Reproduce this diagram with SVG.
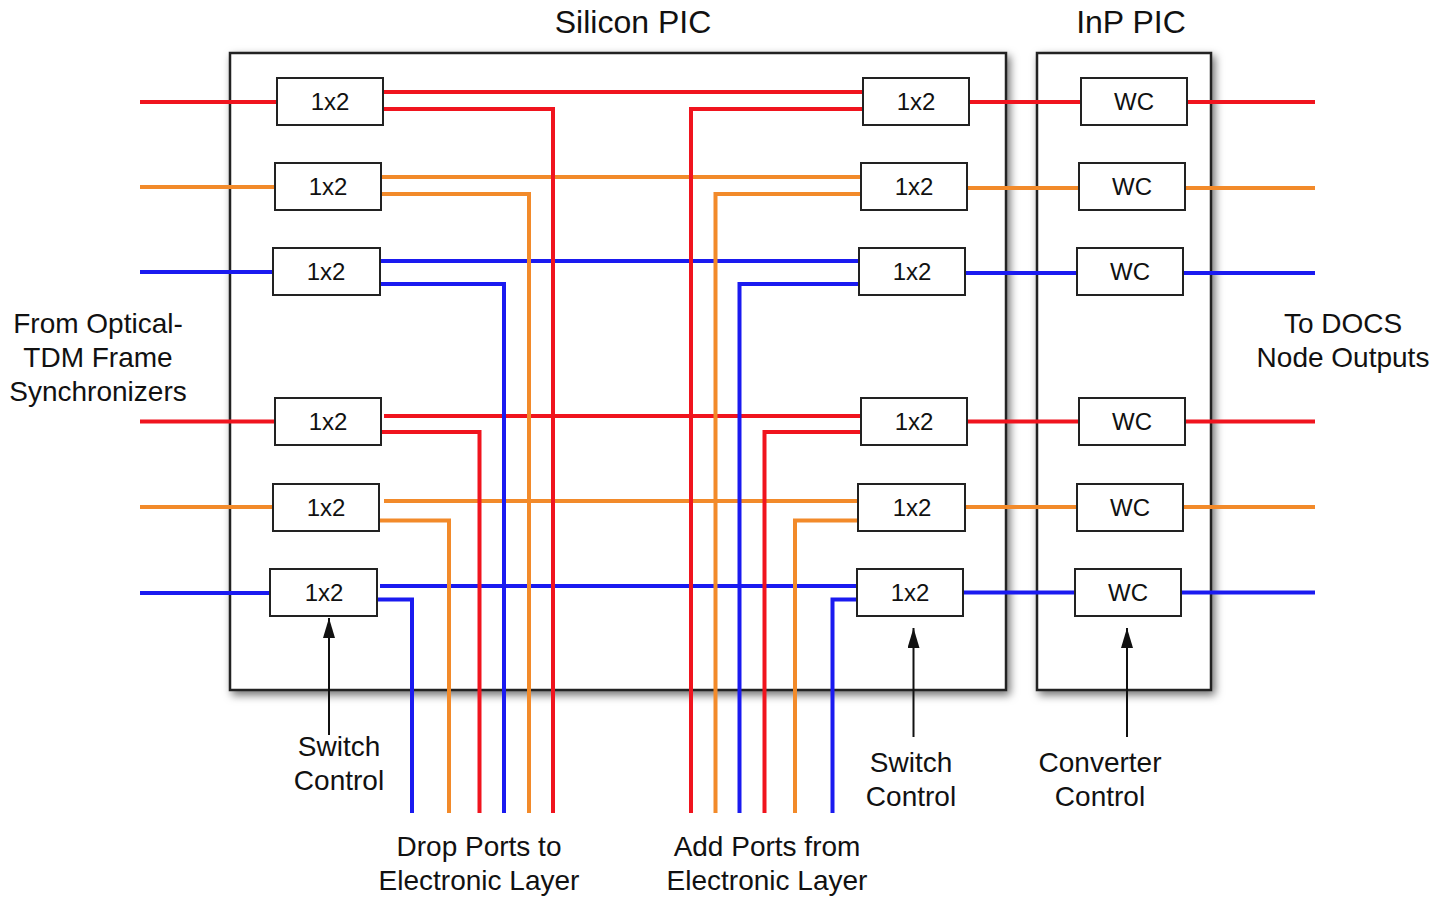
<svg xmlns="http://www.w3.org/2000/svg" width="1442" height="898" viewBox="0 0 1442 898">
<style>
.pic{fill:#fff;stroke:#222;stroke-width:2.5}
.box{fill:#fff;stroke:#222;stroke-width:2}
.bt{font-family:"Liberation Sans",Arial,sans-serif;font-size:24px;fill:#111;text-anchor:middle}
.lb{font-family:"Liberation Sans",Arial,sans-serif;font-size:28px;fill:#111;text-anchor:middle}
.tt{font-family:"Liberation Sans",Arial,sans-serif;font-size:32px;fill:#111;text-anchor:middle}
.r{stroke:#f0141e;stroke-width:4;fill:none}
.o{stroke:#f28a2a;stroke-width:4;fill:none}
.b{stroke:#1a1af0;stroke-width:4;fill:none}
.ar{stroke:#111;stroke-width:2;fill:none}
</style>
<defs>
<filter id="sh" x="-5%" y="-5%" width="115%" height="115%">
<feDropShadow dx="3" dy="4" stdDeviation="4" flood-color="#000" flood-opacity="0.55"/>
</filter>
<marker id="ah" viewBox="0 0 20 12" refX="20" refY="6" markerWidth="20" markerHeight="12" markerUnits="userSpaceOnUse" orient="auto">
<path d="M0,0 L20,6 L0,12 Z" fill="#111"/>
</marker>
</defs>
<rect width="1442" height="898" fill="#fff"/>
<g id="silicon-pic"><rect class="pic" x="230" y="53" width="776" height="637" filter="url(#sh)"/></g>
<g id="inp-pic"><rect class="pic" x="1037" y="53" width="174" height="637" filter="url(#sh)"/></g>
<g id="connectors">
<line class="r" x1="140" y1="102" x2="277" y2="102"/>
<line class="o" x1="140" y1="187" x2="275" y2="187"/>
<line class="b" x1="140" y1="272" x2="273" y2="272"/>
<line class="r" x1="140" y1="421.5" x2="275" y2="421.5"/>
<line class="o" x1="140" y1="507" x2="273" y2="507"/>
<line class="b" x1="140" y1="593" x2="270" y2="593"/>
<line class="r" x1="383" y1="92" x2="863" y2="92"/>
<line class="o" x1="381" y1="177" x2="861" y2="177"/>
<line class="b" x1="380" y1="261" x2="859" y2="261"/>
<line class="r" x1="384" y1="416" x2="861" y2="416"/>
<line class="o" x1="384" y1="501" x2="858" y2="501"/>
<line class="b" x1="380" y1="586" x2="857" y2="586"/>
<polyline class="r" points="383,109 553,109 553,813"/>
<polyline class="o" points="381,194 529,194 529,813"/>
<polyline class="b" points="380,284 504,284 504,813"/>
<polyline class="r" points="381,432 479.5,432 479.5,813"/>
<polyline class="o" points="379,520.5 449,520.5 449,813"/>
<polyline class="b" points="377,599.5 412,599.5 412,813"/>
<polyline class="r" points="863,109 691,109 691,813"/>
<polyline class="o" points="861,194 715.5,194 715.5,813"/>
<polyline class="b" points="859,284 739.5,284 739.5,813"/>
<polyline class="r" points="861,432 764.5,432 764.5,813"/>
<polyline class="o" points="858,520.5 795,520.5 795,813"/>
<polyline class="b" points="857,599.5 832.5,599.5 832.5,813"/>
<line class="r" x1="969" y1="102" x2="1081" y2="102"/>
<line class="o" x1="967" y1="188" x2="1079" y2="188"/>
<line class="b" x1="965" y1="273" x2="1077" y2="273"/>
<line class="r" x1="967" y1="421.5" x2="1079" y2="421.5"/>
<line class="o" x1="965" y1="507" x2="1077" y2="507"/>
<line class="b" x1="963" y1="592.5" x2="1075" y2="592.5"/>
<line class="r" x1="1187" y1="102" x2="1315" y2="102"/>
<line class="o" x1="1185" y1="188" x2="1315" y2="188"/>
<line class="b" x1="1183" y1="273" x2="1315" y2="273"/>
<line class="r" x1="1185" y1="421.5" x2="1315" y2="421.5"/>
<line class="o" x1="1183" y1="507" x2="1315" y2="507"/>
<line class="b" x1="1181" y1="592.5" x2="1315" y2="592.5"/>
<line class="ar" x1="329" y1="735" x2="329" y2="618" marker-end="url(#ah)"/>
<line class="ar" x1="913.5" y1="737" x2="913.5" y2="628" marker-end="url(#ah)"/>
<line class="ar" x1="1127" y1="737" x2="1127" y2="628" marker-end="url(#ah)"/>
</g>
<g id="L1"><rect class="box" x="277" y="78" width="106" height="47"/><text class="bt" x="330" y="110">1x2</text></g>
<g id="L2"><rect class="box" x="275" y="163" width="106" height="47"/><text class="bt" x="328" y="195">1x2</text></g>
<g id="L3"><rect class="box" x="273" y="248" width="107" height="47"/><text class="bt" x="326" y="280">1x2</text></g>
<g id="L4"><rect class="box" x="275" y="398" width="106" height="47"/><text class="bt" x="328" y="430">1x2</text></g>
<g id="L5"><rect class="box" x="273" y="484" width="106" height="47"/><text class="bt" x="326" y="516">1x2</text></g>
<g id="L6"><rect class="box" x="270" y="569" width="107" height="47"/><text class="bt" x="324" y="601">1x2</text></g>
<g id="R1"><rect class="box" x="863" y="78" width="106" height="47"/><text class="bt" x="916" y="110">1x2</text></g>
<g id="R2"><rect class="box" x="861" y="163" width="106" height="47"/><text class="bt" x="914" y="195">1x2</text></g>
<g id="R3"><rect class="box" x="859" y="248" width="106" height="47"/><text class="bt" x="912" y="280">1x2</text></g>
<g id="R4"><rect class="box" x="861" y="398" width="106" height="47"/><text class="bt" x="914" y="430">1x2</text></g>
<g id="R5"><rect class="box" x="858" y="484" width="107" height="47"/><text class="bt" x="912" y="516">1x2</text></g>
<g id="R6"><rect class="box" x="857" y="569" width="106" height="47"/><text class="bt" x="910" y="601">1x2</text></g>
<g id="W1"><rect class="box" x="1081" y="78" width="106" height="47"/><text class="bt" x="1134" y="110">WC</text></g>
<g id="W2"><rect class="box" x="1079" y="163" width="106" height="47"/><text class="bt" x="1132" y="195">WC</text></g>
<g id="W3"><rect class="box" x="1077" y="248" width="106" height="47"/><text class="bt" x="1130" y="280">WC</text></g>
<g id="W4"><rect class="box" x="1079" y="398" width="106" height="47"/><text class="bt" x="1132" y="430">WC</text></g>
<g id="W5"><rect class="box" x="1077" y="484" width="106" height="47"/><text class="bt" x="1130" y="516">WC</text></g>
<g id="W6"><rect class="box" x="1075" y="569" width="106" height="47"/><text class="bt" x="1128" y="601">WC</text></g>
<g id="labels">
<text class="tt" x="633" y="33">Silicon PIC</text>
<text class="tt" x="1131" y="33">InP PIC</text>
<text class="lb" x="98" y="333">From Optical-</text>
<text class="lb" x="98" y="367">TDM Frame</text>
<text class="lb" x="98" y="401">Synchronizers</text>
<text class="lb" x="1343" y="333">To DOCS</text>
<text class="lb" x="1343" y="367">Node Outputs</text>
<text class="lb" x="339" y="756">Switch</text>
<text class="lb" x="339" y="790">Control</text>
<text class="lb" x="911" y="772">Switch</text>
<text class="lb" x="911" y="806">Control</text>
<text class="lb" x="1100" y="772">Converter</text>
<text class="lb" x="1100" y="806">Control</text>
<text class="lb" x="479" y="856">Drop Ports to</text>
<text class="lb" x="479" y="890">Electronic Layer</text>
<text class="lb" x="767" y="856">Add Ports from</text>
<text class="lb" x="767" y="890">Electronic Layer</text>
</g>
</svg>
